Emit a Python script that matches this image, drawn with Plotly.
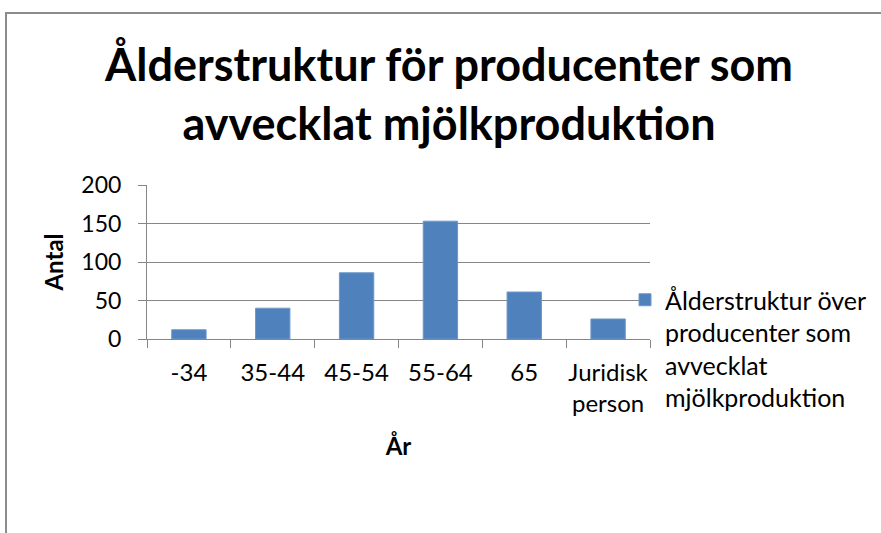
import plotly.graph_objects as go

# data
age_groups = ["-34", "35-44", "45-54", "55-64", "65", "Juridisk<br>person"]
counts = [12, 40, 86, 153, 61, 26]
series_name = "Ålderstruktur över<br>producenter som<br>avvecklat<br>mjölkproduktion"
y_ticks = [0, 50, 100, 150, 200]

W, H = 881, 533
left, right, top, bottom = 147, 650, 185, 339
grey = "#868686"
font = "Lato"


def px_x(x):
    return (x - left) / (right - left)


def px_y(y):
    return (bottom - y) / (bottom - top)


fig = go.Figure()
fig.add_trace(go.Bar(
    x=age_groups, y=counts, name=series_name,
    marker=dict(color="#4F81BD", line=dict(color="#6E98CB", width=1)),
    showlegend=True,
))

fig.update_layout(
    width=W, height=H,
    margin=dict(l=left, r=W - right, t=top, b=H - bottom, pad=0, autoexpand=False),
    paper_bgcolor="white", plot_bgcolor="white",
    font=dict(family=font, color="#000000", size=23),
    bargap=0.59,
    title=dict(
        text="Ålderstruktur för producenter som<br>avvecklat mjölkproduktion",
        font=dict(family=font, size=45, weight="bold", color="#000000"),
        x=449 / W, xanchor="center", xref="container",
        y=1 - 81 / H, yanchor="top", yref="container",
    ),
    legend=dict(
        x=px_x(625), xanchor="left", y=px_y(277), yanchor="top",
        font=dict(family=font, size=25), valign="top",
        itemwidth=30, bgcolor="rgba(0,0,0,0)", tracegroupgap=0,
    ),
    shapes=[dict(
        type="rect", xref="paper", yref="paper",
        x0=px_x(6), x1=px_x(900), y0=px_y(560), y1=px_y(13),
        line=dict(color="#8C8C8C", width=2), fillcolor="rgba(0,0,0,0)",
        layer="below",
    )],
)

fig.update_xaxes(
    type="category", showline=True, linecolor=grey, linewidth=1,
    ticks="outside", tickson="boundaries", ticklen=8, tickcolor=grey,
    ticklabelstandoff=12, tickangle=0,
    tickfont=dict(family=font, size=24),
    title=dict(text="År", font=dict(family=font, size=24, weight="bold"), standoff=22),
)
fig.update_yaxes(
    range=[0, 200], tickvals=y_ticks, showline=True, linecolor=grey, linewidth=1,
    showgrid=True, gridcolor=grey, gridwidth=1, zeroline=False,
    ticks="outside", ticklen=8, tickcolor=grey, ticklabelstandoff=12,
    tickfont=dict(family=font, size=23),
    title=dict(text="Antal", font=dict(family=font, size=24, weight="bold"), standoff=10),
)

# page body has an 8px default margin; drop it so the chart sits at the page corner
fig.write_html("out.html", config={"displayModeBar": False},
               post_script="document.body.style.margin='0';")
